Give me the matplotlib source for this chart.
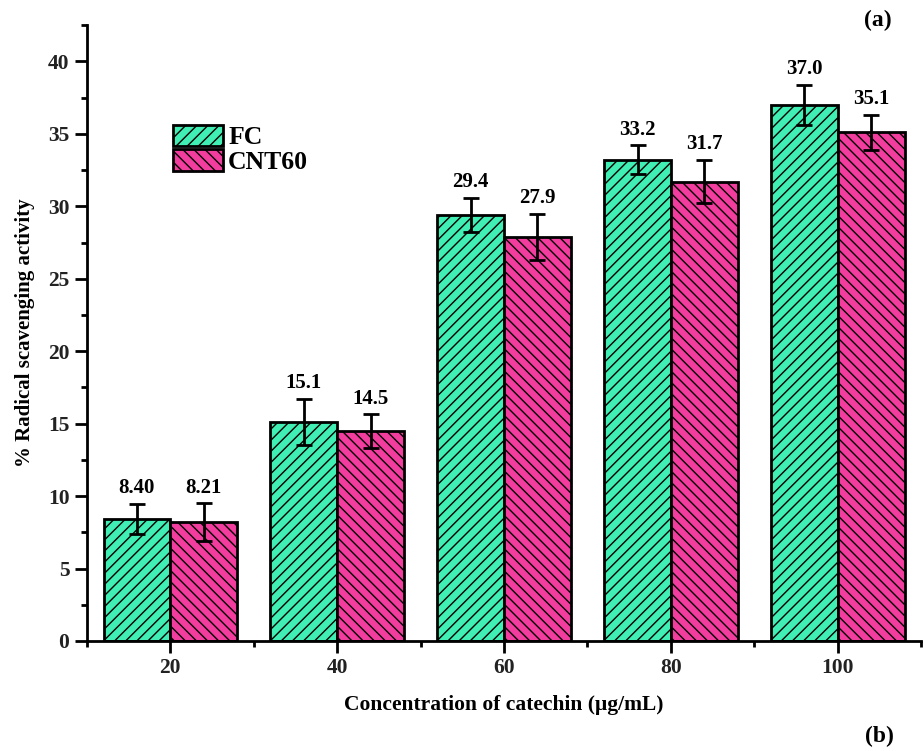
import numpy as np
import matplotlib
matplotlib.use("Agg")
import matplotlib.pyplot as plt
from matplotlib.ticker import MultipleLocator

plt.rcParams['font.family'] = ['Liberation Serif', 'DejaVu Serif']
plt.rcParams['hatch.linewidth'] = 1.0

# data
concentrations = ["20", "40", "60", "80", "100"]
fc = [8.40, 15.1, 29.4, 33.2, 37.0]
cnt60 = [8.21, 14.5, 27.9, 31.7, 35.1]
fc_err = [1.05, 1.6, 1.2, 1.0, 1.4]
cnt60_err = [1.3, 1.15, 1.6, 1.5, 1.2]
fc_labels = ["8.40", "15.1", "29.4", "33.2", "37.0"]
cnt60_labels = ["8.21", "14.5", "27.9", "31.7", "35.1"]

fig = plt.figure(figsize=(9.24, 7.51), dpi=100)
ax = fig.add_axes([0.094, 0.1465, 0.903, 0.82])

x = np.arange(1, len(concentrations) + 1)
w = 0.4

ax.bar(x - w/2, fc, w, color='#40EFB4', edgecolor='black', linewidth=2,
       hatch='///', label='FC', zorder=2)
ax.bar(x + w/2, cnt60, w, color='#F23C9E', edgecolor='black', linewidth=2,
       hatch='\\\\\\', label='CNT60', zorder=2)
ax.errorbar(x - w/2, fc, yerr=fc_err, fmt='none', ecolor='black', elinewidth=2,
            capsize=5.5, capthick=2, zorder=3)
ax.errorbar(x + w/2, cnt60, yerr=cnt60_err, fmt='none', ecolor='black', elinewidth=2,
            capsize=5.5, capthick=2, zorder=3)

for xi, v, e, t in zip(x - w/2, fc, fc_err, fc_labels):
    ax.annotate(t, (xi, v + e), xytext=(0, 4), textcoords='offset points',
                ha='center', va='bottom', fontsize=15, fontweight='bold')
for xi, v, e, t in zip(x + w/2, cnt60, cnt60_err, cnt60_labels):
    ax.annotate(t, (xi, v + e), xytext=(0, 4), textcoords='offset points',
                ha='center', va='bottom', fontsize=15, fontweight='bold')

ax.set_xlim(0.5, 5.5)
ax.set_ylim(0, 42.5)
ax.set_xticks(x)
ax.set_xticklabels(concentrations)
ax.xaxis.set_minor_locator(plt.FixedLocator([0.5, 1.5, 2.5, 3.5, 4.5, 5.5]))
ax.yaxis.set_major_locator(MultipleLocator(5))
ax.yaxis.set_minor_locator(MultipleLocator(2.5))

for s in ['top', 'right']:
    ax.spines[s].set_visible(False)
for s in ['left', 'bottom']:
    ax.spines[s].set_linewidth(2)

ax.tick_params(which='major', length=8.5, width=2, labelsize=15.5, pad=4)
ax.tick_params(which='minor', length=4, width=2)
for lab in ax.get_xticklabels() + ax.get_yticklabels():
    lab.set_fontweight('bold')
    lab.set_color('#222222')

ax.set_xlabel('Concentration of catechin (μg/mL)', fontsize=15.5, fontweight='bold', labelpad=12)
ax.set_ylabel('% Radical scavenging activity', fontsize=15, fontweight='bold', labelpad=9)

ax.legend(loc='upper left', bbox_to_anchor=(0.103, 0.838), frameon=False,
          prop={'size': 18.5, 'weight': 'bold'}, handlelength=1.95, handleheight=0.9,
          labelspacing=0.0, handletextpad=0.2, borderpad=0, borderaxespad=0)

fig.text(0.95, 0.973, '(a)', ha='center', va='center', fontsize=17, fontweight='bold')
fig.text(0.952, 0.019, '(b)', ha='center', va='center', fontsize=17, fontweight='bold')

fig.savefig('out.png', dpi=100)
